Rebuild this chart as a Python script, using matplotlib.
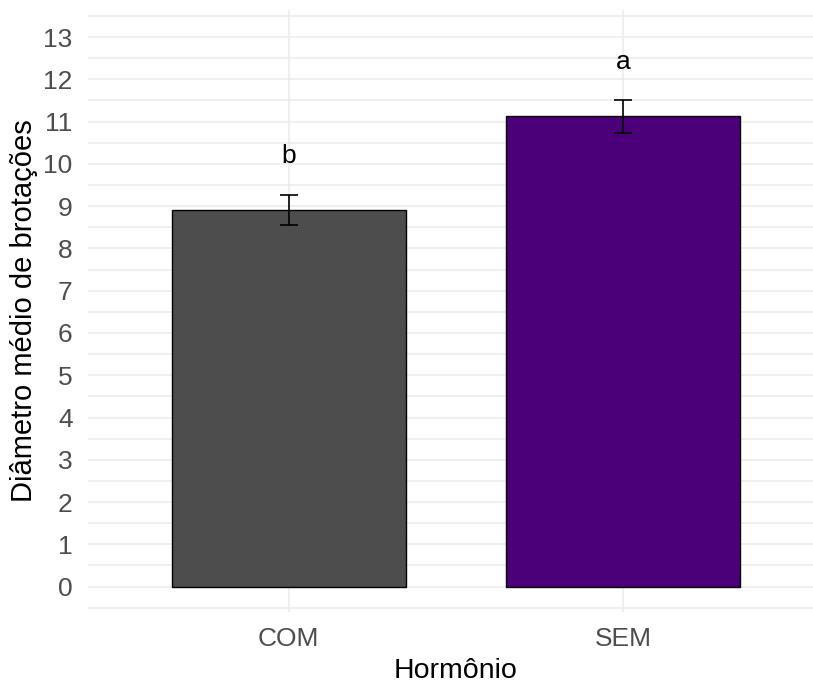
import matplotlib.pyplot as plt
import numpy as np
from matplotlib.ticker import MultipleLocator

plt.rcParams['font.family'] = ['Liberation Sans', 'DejaVu Sans']

hormonio = ['COM', 'SEM']
media = [8.91, 11.13]
erro = [0.365, 0.39]
letras = ['b', 'a']
cores = ['#4D4D4D', '#4B0079']

fig = plt.figure(figsize=(8.13, 6.85), dpi=100)
ax = fig.add_axes([0.1082, 0.1066, 0.905, 0.8788])

x = np.arange(1, len(hormonio) + 1)
ax.bar(x, media, width=0.7, color=cores, edgecolor='black', linewidth=1, zorder=3)
ax.errorbar(x, media, yerr=erro, fmt='none', ecolor='black', elinewidth=1.2,
            capsize=6.5, capthick=1.2, zorder=4)
for xi, m, e, l in zip(x, media, erro, letras):
    ax.text(xi, m + e + 0.9, l, ha='center', va='center', fontsize=19, color='black')

ax.set_xlim(0.4, 2.6)
ax.set_ylim(-0.6, 13.64)
ax.set_xticks(x)
ax.set_xticklabels(hormonio)
ax.yaxis.set_major_locator(MultipleLocator(1))
ax.yaxis.set_minor_locator(MultipleLocator(0.5))
ax.grid(True, which='major', color='#EBEBEB', linewidth=1.1, zorder=0)
ax.grid(True, which='minor', axis='y', color='#EBEBEB', linewidth=1.1, zorder=0)
ax.tick_params(which='both', length=0, labelsize=19, labelcolor='#4D4D4D')
ax.tick_params(axis='x', pad=11)
ax.tick_params(axis='y', pad=11)
for s in ax.spines.values():
    s.set_visible(False)

ax.set_xlabel('Hormônio', fontsize=20.5, labelpad=5)
ax.set_ylabel('Diâmetro médio de brotações', fontsize=21, labelpad=4)

fig.savefig('out.png', dpi=100)
